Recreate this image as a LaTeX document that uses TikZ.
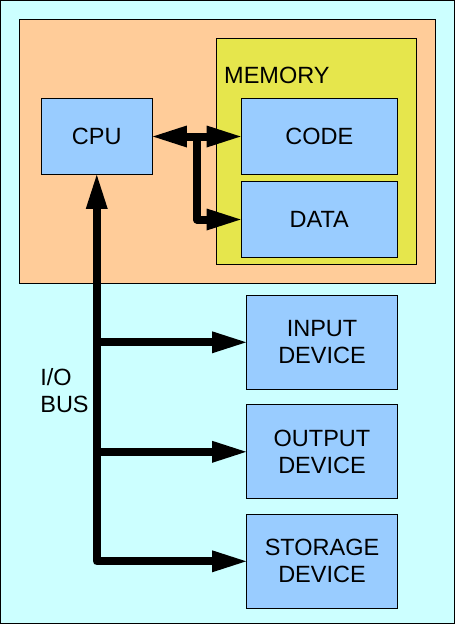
\documentclass[tikz,border=0pt]{standalone}
\usepackage{fontspec}
\setmainfont{Liberation Sans}
\usetikzlibrary{arrows.meta,calc}

\definecolor{backcyan}{HTML}{CCFFFF}
\definecolor{hostorange}{HTML}{FFCC99}
\definecolor{memyellow}{HTML}{E6E64C}
\definecolor{unitblue}{HTML}{99CCFF}

\begin{document}
\begin{tikzpicture}[x=1pt,y=-1pt,
  >={Triangle[length=34pt,width=22pt,line width=0pt]},
  box/.style={draw,line width=0.8pt,inner sep=0pt,align=center,
    font=\fontsize{23.5}{27}\selectfont},
  unit/.style={box,fill=unitblue},
  bus/.style={line width=8pt,line join=round}]
\def \W {455};
\def \H {624};

% background and frame
\useasboundingbox (0,0) rectangle (\W,\H);
\fill[backcyan] (0,0) rectangle (\W,\H);
\draw[line width=1pt] (0.5,0.5) rectangle (\W-0.5,\H-0.5);

% computer and memory
\node[box,fill=hostorange,minimum width=416pt,minimum height=264pt] (host) at (227,151) {};
\node[box,fill=memyellow,minimum width=200pt,minimum height=226pt] (memory) at (316.5,151.5) {};
\node[anchor=base west,inner sep=0pt,font=\fontsize{23.5}{27}\selectfont] (memlabel) at (224,83.3) {MEMORY};

% units
\node[unit,minimum width=111.5pt,minimum height=76pt] (cpu) at (96.75,136.5) {CPU};
\node[unit,minimum width=156.5pt,minimum height=76pt] (code) at (319.25,136.5) {CODE};
\node[unit,minimum width=156.5pt,minimum height=76pt] (data) at (319.25,219.5) {DATA};

% devices
\foreach \name/\txt/\y in {input/INPUT/342.3,output/OUTPUT/451.8,storage/STORAGE/561.3}
{
\node[unit,minimum width=151pt,minimum height=94pt] (\name) at (322,\y) {\txt\\DEVICE};
}

\node[align=left,inner sep=0pt,font=\fontsize{23.5}{27}\selectfont] (buslabel) at (64.5,391) {I/O\\BUS};

% memory bus
\coordinate (split) at ($(cpu.east)!0.5!(code.west)$);
\draw[bus,<->] (cpu.east) -- (code.west);
\draw[bus,->] (split) |- (data.west);

% i/o bus
\draw[bus,<->] (storage.west) -| (cpu.south);
\draw[bus,->] (cpu.south |- input.west) -- (input.west);
\draw[bus,->] (cpu.south |- output.west) -- (output.west);

\end{tikzpicture}
\end{document}
